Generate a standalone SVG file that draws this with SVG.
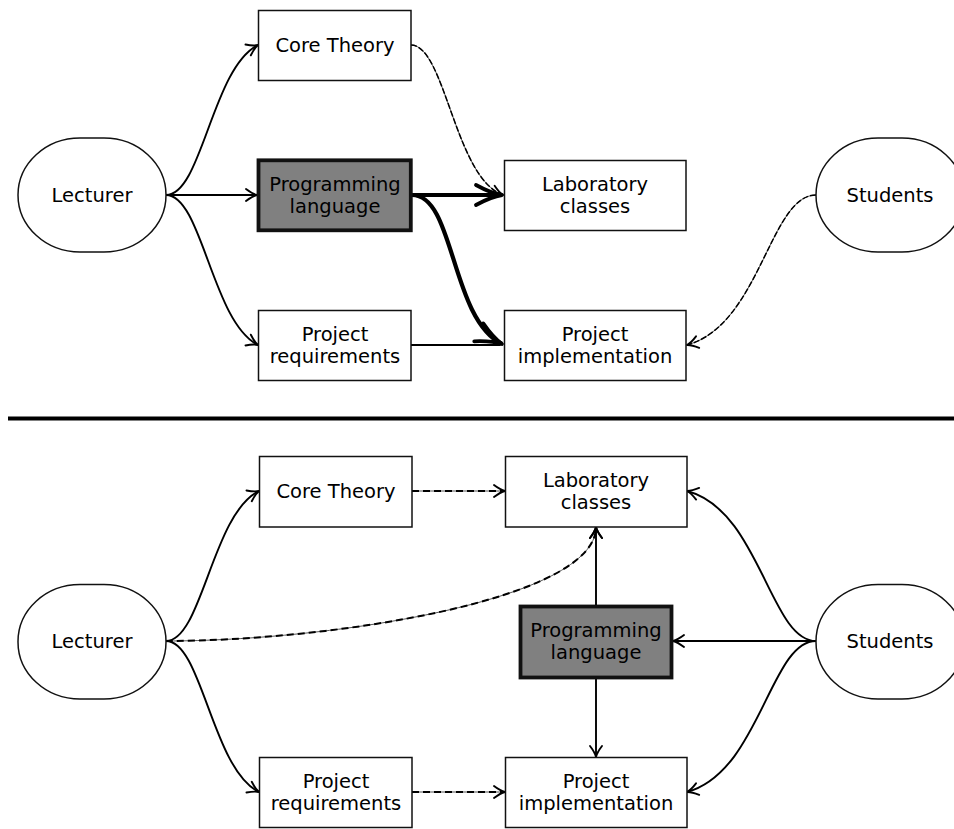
<svg xmlns="http://www.w3.org/2000/svg" width="954" height="829" viewBox="0 0 954 829">
  <style>
    .box { fill: #ffffff; stroke: #111111; stroke-width: 1.5; }
    .hl { fill: #808080; stroke: #111111; stroke-width: 3.8; }
    .actor { fill: #ffffff; stroke: #111111; stroke-width: 1.5; }
    text { font-family: "DejaVu Sans", "Noto Sans", sans-serif; font-size: 19.5px; fill: #000000; text-anchor: middle; }
    .edge { fill: none; stroke: #000000; stroke-width: 1.9; }
    .thick { fill: none; stroke: #000000; stroke-width: 4.2; }
    .mid { fill: none; stroke: #000000; stroke-width: 2.2; }
    .under { fill: none; stroke: #555555; stroke-width: 1; }
    .dash { fill: none; stroke: #000000; stroke-width: 2; stroke-dasharray: 7 4; }
    .dashthin { fill: none; stroke: #000000; stroke-width: 1.5; stroke-dasharray: 6 2; }
    .sep { stroke: #000000; stroke-width: 4; }
  </style>
  <defs>
    <marker id="arrow" markerUnits="userSpaceOnUse" viewBox="-13 -8 15 16" refX="0" refY="0" markerWidth="15" markerHeight="16" orient="auto">
      <path d="M-11,-6 C-6,-2.2 -3,-0.7 0,0 C-3,0.7 -6,2.2 -11,6" fill="none" stroke="#000" stroke-width="1.9" stroke-linecap="round" stroke-linejoin="round"/>
    </marker>
    <marker id="arrowBig" markerUnits="userSpaceOnUse" viewBox="-30 -14 33 28" refX="0" refY="0" markerWidth="33" markerHeight="28" orient="auto">
      <path d="M-26,-10 C-15,-4 -7,-1 0,0 C-7,1 -15,4 -26,10" fill="none" stroke="#000" stroke-width="3.8" stroke-linecap="round" stroke-linejoin="round"/>
    </marker>
  </defs>

  <!-- upper scheme: connectors -->
  <g id="connectors-top">
    <path class="edge" d="M166,195 C202,195 212,68 258,45" marker-end="url(#arrow)"/>
    <path class="edge" d="M166,195 H257"  marker-end="url(#arrow)"/>
    <path class="edge" d="M166,195 C202,195 212,322 258,345" marker-end="url(#arrow)"/>
    <path class="under" d="M411,45 C445,45 455,178 503,195"/>
    <path class="dashthin" d="M411,45 C445,45 455,178 503,195" marker-end="url(#arrow)"/>
    <path class="mid" d="M411,345 H500"/>
    <path class="thick" d="M412,195 H502" marker-end="url(#arrowBig)"/>
    <path class="thick" d="M412,195 C455,195 450,318 502,344" marker-end="url(#arrowBig)"/>
    <path class="under" d="M816,195 C770,195 760,325 687,345"/>
    <path class="dashthin" d="M816,195 C770,195 760,325 687,345" marker-end="url(#arrow)"/>
  </g>

  <!-- upper scheme: nodes -->
  <g id="lecturer-top">
    <rect class="actor" x="18" y="138" width="148" height="114" rx="62" ry="57"/>
    <text x="92" y="202">Lecturer</text>
  </g>
  <g id="core-theory-top">
    <rect class="box" x="258.5" y="10.5" width="152.5" height="70"/>
    <text x="335" y="52">Core Theory</text>
  </g>
  <g id="programming-language-top">
    <rect class="hl" x="258.5" y="160.3" width="152.3" height="70"/>
    <text x="335" y="191">Programming</text>
    <text x="335" y="213">language</text>
  </g>
  <g id="project-requirements-top">
    <rect class="box" x="258.5" y="310.5" width="152.5" height="70"/>
    <text x="335" y="341">Project</text>
    <text x="335" y="363">requirements</text>
  </g>
  <g id="laboratory-classes-top">
    <rect class="box" x="504.5" y="160.5" width="181.5" height="70"/>
    <text x="595" y="191">Laboratory</text>
    <text x="595" y="213">classes</text>
  </g>
  <g id="project-implementation-top">
    <rect class="box" x="504.5" y="310.5" width="181.5" height="70"/>
    <text x="595" y="341">Project</text>
    <text x="595" y="363">implementation</text>
  </g>
  <g id="students-top">
    <rect class="actor" x="816" y="138" width="148" height="114" rx="62" ry="57"/>
    <text x="890" y="202">Students</text>
  </g>

  <!-- divider between the two schemes -->
  <line class="sep" x1="8" y1="418.5" x2="954" y2="418.5"/>

  <!-- lower scheme: connectors -->
  <g id="connectors-bottom">
    <path class="edge" d="M166,641 C202,641 212,514 259,491" marker-end="url(#arrow)"/>
    <path class="edge" d="M166,641 C202,641 212,769 259,792" marker-end="url(#arrow)"/>
    <path class="under" d="M166,641 C330,641 596,600 596,527"/>
    <path class="dash" d="M166,641 C330,641 596,600 596,527" marker-end="url(#arrow)"/>
    <path class="under" d="M412,491 H505"/>
    <path class="dash" d="M412,491 H505" marker-end="url(#arrow)"/>
    <path class="under" d="M412,792 H505"/>
    <path class="dash" d="M412,792 H505" marker-end="url(#arrow)"/>
    <path class="edge" d="M596,606 V527" marker-end="url(#arrow)"/>
    <path class="edge" d="M596,678 V757" marker-end="url(#arrow)"/>
    <path class="edge" d="M816,641 C770,641 760,510 687,491" marker-end="url(#arrow)"/>
    <path class="edge" d="M816,641 H673" marker-end="url(#arrow)"/>
    <path class="edge" d="M816,641 C770,641 760,772 687,792" marker-end="url(#arrow)"/>
  </g>

  <!-- lower scheme: nodes -->
  <g id="lecturer-bottom">
    <rect class="actor" x="18" y="584.5" width="148" height="114.5" rx="62" ry="57"/>
    <text x="92" y="648">Lecturer</text>
  </g>
  <g id="core-theory-bottom">
    <rect class="box" x="259.5" y="456.5" width="152.5" height="70.5"/>
    <text x="336" y="498">Core Theory</text>
  </g>
  <g id="project-requirements-bottom">
    <rect class="box" x="259.5" y="757.5" width="152.5" height="70"/>
    <text x="336" y="788">Project</text>
    <text x="336" y="810">requirements</text>
  </g>
  <g id="laboratory-classes-bottom">
    <rect class="box" x="505.5" y="456.5" width="181.5" height="70.5"/>
    <text x="596" y="487">Laboratory</text>
    <text x="596" y="509">classes</text>
  </g>
  <g id="programming-language-bottom">
    <rect class="hl" x="520.5" y="606.5" width="151" height="71"/>
    <text x="596" y="637">Programming</text>
    <text x="596" y="659">language</text>
  </g>
  <g id="project-implementation-bottom">
    <rect class="box" x="505.5" y="757.5" width="181.5" height="70"/>
    <text x="596" y="788">Project</text>
    <text x="596" y="810">implementation</text>
  </g>
  <g id="students-bottom">
    <rect class="actor" x="816" y="584.5" width="148" height="114.5" rx="62" ry="57"/>
    <text x="890" y="648">Students</text>
  </g>
</svg>
